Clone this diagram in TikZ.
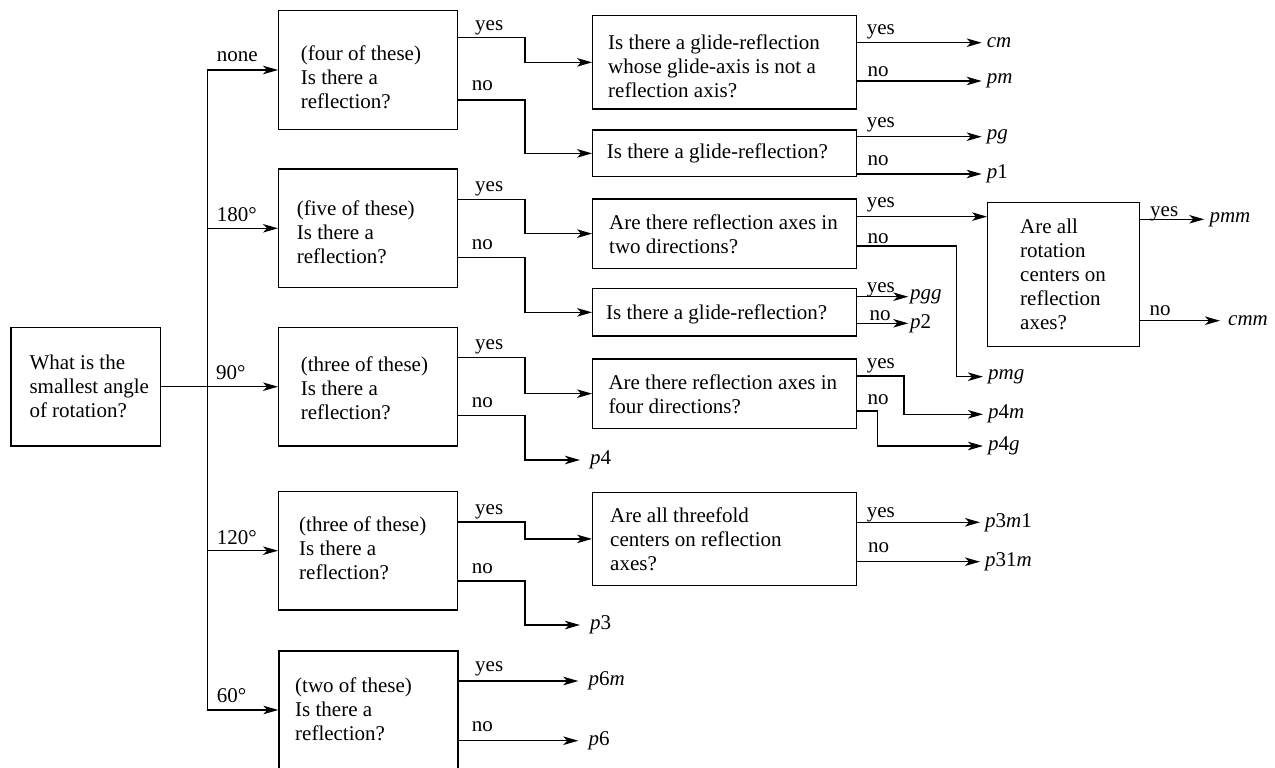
\documentclass[tikz,border=0pt]{standalone}
\usepackage{fontspec}
\setmainfont{Liberation Serif}
\usetikzlibrary{arrows.meta,calc}
\newcommand\figfont{\fontsize{21}{24}\selectfont}
\begin{document}
\begin{tikzpicture}[x=1pt,y=-1pt,
  box/.style={draw, line width=1.3pt, rectangle, inner sep=0pt},
  abox/.style={box, minimum width=179pt, minimum height=118.4pt},
  bbox/.style={box, minimum width=264pt},
  txt/.style={anchor=west, inner sep=0pt, align=left, font=\figfont},
  lab/.style={anchor=base west, inner sep=0pt, font=\figfont},
  res/.style={anchor=west, inner ysep=0pt, inner xsep=5pt, font=\figfont},
  resA/.style={res, inner xsep=10pt},
  resS/.style={res, inner xsep=1.5pt},
  ln/.style={line width=1.3pt},
  arr/.style={ln, -{Stealth[length=15pt,width=8.5pt,inset=4pt]}}
]
\useasboundingbox (0,0) rectangle (1275,768);

% ---------- boxes ----------
\node[box, minimum width=149.7pt, minimum height=118.6pt] (M) at (85.85,386.7) {};
\node[abox] (A1) at (368.2,70) {};
\node[abox] (A2) at (368.2,228.3) {};
\node[abox] (A3) at (368.2,386.7) {};
\node[abox] (A4) at (368.2,550.7) {};
\node[abox, minimum height=118pt] (A5) at (368.5,710) {};

\node[bbox, minimum height=93.3pt] (B1) at (724.7,62.35) {};
\node[bbox, minimum height=46.7pt] (B2) at (724.7,153.35) {};
\node[bbox, minimum height=69.3pt] (B3) at (724.7,233.65) {};
\node[bbox, minimum height=47.3pt] (B4) at (724.7,312.35) {};
\node[bbox, minimum height=69.3pt] (B5) at (724.7,393.65) {};
\node[bbox, minimum height=93.2pt] (B6) at (724.7,538.9) {};

\node[box, minimum width=151.6pt, minimum height=144.4pt] (C) at (1063.5,274.5) {};

% ---------- box texts ----------
\node[txt] (tM) at (29.3,386.7) {What is the\\smallest angle\\of rotation?};
\node[txt] (tA1) at (300.7,77) {(four of these)\\Is there a\\reflection?};
\node[txt] (tA2) at (296.7,232.3) {(five of these)\\Is there a\\reflection?};
\node[txt] (tA3) at (300.7,388.7) {(three of these)\\Is there a\\reflection?};
\node[txt] (tA4) at (299,548) {(three of these)\\Is there a\\reflection?};
\node[txt] (tA5) at (295,709) {(two of these)\\Is there a\\reflection?};

\node[txt] (tB1) at (608,66.35) {Is there a glide-reflection\\whose glide-axis is not a\\reflection axis?};
\node[txt] (tB2) at (606.7,153.35) {Is there a glide-reflection?};
\node[txt] (tB3) at (609,234.65) {Are there reflection axes in\\two directions?};
\node[txt] (tB4) at (606,314.35) {Is there a glide-reflection?};
\node[txt] (tB5) at (608.3,394.65) {Are there reflection axes in\\four directions?};
\node[txt] (tB6) at (610,538.9) {Are all threefold\\centers on reflection\\axes?};
\node[txt] (tC) at (1020,274.5) {Are all\\rotation\\centers on\\reflection\\axes?};

% ---------- end results ----------
\node[resA] (p4) at (580,460) {\textit{p}4};
\node[resA] (p3) at (580,625) {\textit{p}3};
\node[resA] (p6m) at (578.3,681) {\textit{p}6\textit{m}};
\node[resA] (p6) at (578.3,740.7) {\textit{p}6};

\node[res] (cm) at (981.7,42.7) {\textit{cm}};
\node[res] (pm) at (981.7,81) {\textit{pm}};
\node[res] (pg) at (981.7,136.7) {\textit{pg}};
\node[res] (p1) at (981.7,174) {\textit{p}1};
\node[resS] (pgg) at (908.3,296.7) {\textit{pgg}};
\node[resS] (p2) at (908.3,323.3) {\textit{p}2};
\node[res] (pmg) at (983,376.7) {\textit{pmg}};
\node[res] (p4m) at (983,414.3) {\textit{p}4\textit{m}};
\node[res] (p4g) at (983,446) {\textit{p}4\textit{g}};
\node[res] (p3m1) at (980,522.3) {\textit{p}3\textit{m}1};
\node[res] (p31m) at (980,561.7) {\textit{p}31\textit{m}};
\node[res] (pmm) at (1204.3,219.3) {\textit{pmm}};
\node[res, inner xsep=8pt] (cmm) at (1220,320.7) {\textit{cmm}};

% ---------- first level connectors ----------
\coordinate (J) at (207.7,386.7);
\draw[arr] (M.east) -- (A3.west);
\draw[ln] (J) -- (207.7,70);
\draw[arr] (J) |- (A1.west);
\draw[arr] (J) |- (A2.west);
\draw[arr] (J) |- (A4.west);
\draw[arr] (J) |- (A5.west);

\node[lab] (l0) at (216.7,62) {none};
\node[lab] (l180) at (216.7,221) {180°};
\node[lab] (l90) at (216,379) {90°};
\node[lab] (l120) at (216.7,544) {120°};
\node[lab] (l60) at (216.7,702) {60°};

% ---------- second level connectors ----------
\draw[arr] ($(A1.north east)+(0,27.6)$) -- ++(66.6,0) |- (B1.west);
\draw[arr] ($(A1.north east)+(0,89.9)$) -- ++(66.6,0) |- (B2.west);
\draw[arr] ($(A2.north east)+(0,30.9)$) -- ++(66.6,0) |- (B3.west);
\draw[arr] ($(A2.north east)+(0,89.2)$) -- ++(66.6,0) |- (B4.west);
\draw[arr] ($(A3.north east)+(0,30.8)$) -- ++(66.6,0) |- (B5.west);
\draw[arr] ($(A3.north east)+(0,88.5)$) -- ++(66.6,0) |- (p4.west);
\draw[arr] ($(A4.north east)+(0,31.2)$) -- ++(66.6,0) |- (B6.west);
\draw[arr] ($(A4.north east)+(0,90.2)$) -- ++(66.6,0) |- (p3.west);
\draw[arr] (A5.east |- p6m.west) -- (p6m.west);
\draw[arr] (A5.east |- p6.west) -- (p6.west);

\node[lab] (y1) at (475,31) {yes};
\node[lab] (n1) at (471.7,91) {no};
\node[lab] (y2) at (475,191) {yes};
\node[lab] (n2) at (471.7,249) {no};
\node[lab] (y3) at (475,349) {yes};
\node[lab] (n3) at (471.7,407) {no};
\node[lab] (y4) at (475,514) {yes};
\node[lab] (n4) at (471.7,573) {no};
\node[lab] (y5) at (475,671) {yes};
\node[lab] (n5) at (471.7,731) {no};

% ---------- third level connectors ----------
\draw[arr] (B1.east |- cm.west) -- (cm.west);
\draw[arr] (B1.east |- pm.west) -- (pm.west);
\draw[arr] (B2.east |- pg.west) -- (pg.west);
\draw[arr] (B2.east |- p1.west) -- (p1.west);
\coordinate (Cin) at ($(C.north west)+(0,15)$);
\draw[arr] (B3.east |- Cin) -- (Cin);
\draw[arr] ($(B3.north east)+(0,47.7)$) -- ++(99.3,0) |- (pmg.west);
\draw[arr] (B4.east |- pgg.west) -- (pgg.west);
\draw[arr] (B4.east |- p2.west) -- (p2.west);
\draw[arr] ($(B5.north east)+(0,17.7)$) -- ++(46.6,0) |- (p4m.west);
\draw[arr] ($(B5.north east)+(0,52.7)$) -- ++(20,0) |- (p4g.west);
\draw[arr] (B6.east |- p3m1.west) -- (p3m1.west);
\draw[arr] (B6.east |- p31m.west) -- (p31m.west);
\draw[arr] (C.east |- pmm.west) -- (pmm.west);
\draw[arr] (C.east |- cmm.west) -- (cmm.west);

\node[lab] (yb1) at (866.7,35) {yes};
\node[lab] (nb1) at (867.3,77) {no};
\node[lab] (yb2) at (866.7,127) {yes};
\node[lab] (nb2) at (867.3,165) {no};
\node[lab] (yb3) at (866.7,207) {yes};
\node[lab] (nb3) at (867.3,243) {no};
\node[lab] (yb4) at (866.7,292.5) {yes};
\node[lab] (nb4) at (869.3,320) {no};
\node[lab] (yb5) at (866.7,368.5) {yes};
\node[lab] (nb5) at (867.3,404) {no};
\node[lab] (yb6) at (866.7,517.5) {yes};
\node[lab] (nb6) at (868,552) {no};
\node[lab] (yc) at (1150,216) {yes};
\node[lab] (nc) at (1149.3,315) {no};
\end{tikzpicture}
\end{document}
